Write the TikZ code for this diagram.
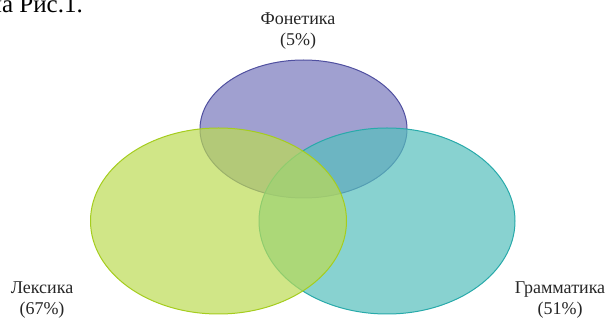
\documentclass[tikz,border=0pt]{standalone}
\usepackage{fontspec}
\setmainfont{Liberation Serif}
\usepackage{tikz}
\usetikzlibrary{shapes.geometric}
\definecolor{fonfill}{RGB}{119,119,188}
\definecolor{fonline}{RGB}{80,80,160}
\definecolor{lexfill}{RGB}{188,219,84}
\definecolor{lexline}{RGB}{165,205,30}
\definecolor{gramfill}{RGB}{86,191,188}
\definecolor{gramline}{RGB}{40,170,170}

\begin{document}
\begin{tikzpicture}[x=1pt, y=-1pt]

                \tikzset{% styles for the circles and labels
                    area/.style={ellipse,inner sep=0pt,draw=#1line,fill=#1fill,
                                 fill opacity=0.7,line width=1pt},
                    label/.style={align=center,font=\fontsize{18}{20.5}\selectfont,
                                  text=black!85}}

                    \useasboundingbox (0,0) rectangle (613,320);
                    \clip (0,0) rectangle (613,320);

                    \node [anchor=base east,inner sep=0pt,font=\fontsize{25}{28}\selectfont](ref) at (83,12.5) {на Рис.1.};

                    \node [area=fon, minimum width=207pt, minimum height=138pt](fon) at (303.5,129) {};
                    \node [area=gram, minimum width=256pt, minimum height=186pt](gram) at (387,221) {};
                    \node [area=lex, minimum width=256pt, minimum height=186pt](lex) at (218.5,221) {};

                    \node [label](fon_t) at (298,31) {Фонетика\\(5\%)};
                    \node [label](lex_t) at (42,300) {Лексика\\(67\%)};
                    \node [label](gram_t) at (560,300) {Грамматика\\(51\%)};

            \end{tikzpicture}
\end{document}
